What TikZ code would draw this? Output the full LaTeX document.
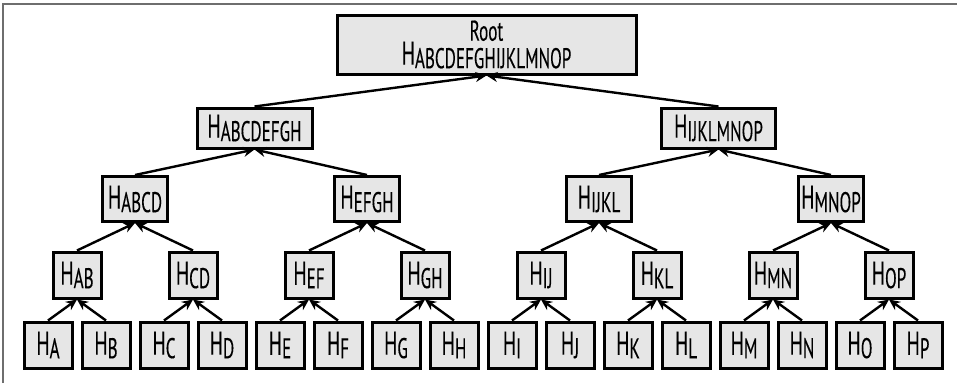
\documentclass[tikz,border=0pt]{standalone}
\usepackage{fontspec}
\setmainfont{PT Sans}[FakeStretch=0.6,FakeBold=0.2]
\usetikzlibrary{calc,arrows.meta}
\definecolor{boxgray}{HTML}{E6E6E6}
\definecolor{framegray}{HTML}{6E6E6E}
\newcommand{\hsub}[1]{{\fontsize{33}{33}\selectfont H}\raisebox{-3.5pt}{#1}}

\begin{document}
\begin{tikzpicture}[x=1pt,y=-1pt,
  hbox/.style={draw,line width=3pt,fill=boxgray,inner sep=0pt,minimum height=46pt,
    font=\fontsize{28.5}{30}\selectfont},
  link/.style={line width=2.4pt,-{Stealth[length=11pt,width=10pt]}}]
\useasboundingbox (0,0) rectangle (957,383);
\draw[framegray,line width=1.2pt] (3,383) -- (3,4) -- (957,4);

% leaves
\foreach \l [count=\i from 0] in {A,B,C,D,E,F,G,H,I,J,K,L,M,N,O,P}
  \node[hbox,minimum width=48pt] (h\l) at ({48+58*\i},345) {\hsub{\l}};

% pairs
\foreach \a/\b in {A/B,C/D,E/F,G/H,I/J,K/L,M/N,O/P}{
  \node[hbox,minimum width=48pt] (h\a\b) at ($(h\a)!0.5!(h\b)+(0,-70)$) {\hsub{\a\b}};
  \draw[link] (h\a.north) -- (h\a\b.south);
  \draw[link] (h\b.north) -- (h\a\b.south);
}

% fours
\foreach \a/\b in {AB/CD,EF/GH,IJ/KL,MN/OP}{
  \node[hbox,minimum width=65pt,minimum height=45pt] (h\a\b) at ($(h\a)!0.5!(h\b)+(0,-76)$) {\hsub{\a\b}};
  \draw[link] (h\a.north) -- (h\a\b.south);
  \draw[link] (h\b.north) -- (h\a\b.south);
}

% eights
\node[hbox,minimum width=115pt,minimum height=40pt] (hABCDEFGH) at (254.5,128) {\hsub{ABCDEFGH}};
\node[hbox,minimum width=114pt,minimum height=40pt] (hIJKLMNOP) at (718.5,128) {\hsub{IJKLMNOP}};
\foreach \c/\p in {ABCD/ABCDEFGH,EFGH/ABCDEFGH,IJKL/IJKLMNOP,MNOP/IJKLMNOP}
  \draw[link] (h\c.north) -- (h\p.south);

% root
\node[hbox,minimum width=299pt,minimum height=59pt,align=center] (root) at (486.5,44.5)
  {Root\\[-6pt]\hsub{ABCDEFGHIJKLMNOP}};
\draw[link] (hABCDEFGH.north) -- (root.south);
\draw[link] (hIJKLMNOP.north) -- (root.south);
\end{tikzpicture}
\end{document}
